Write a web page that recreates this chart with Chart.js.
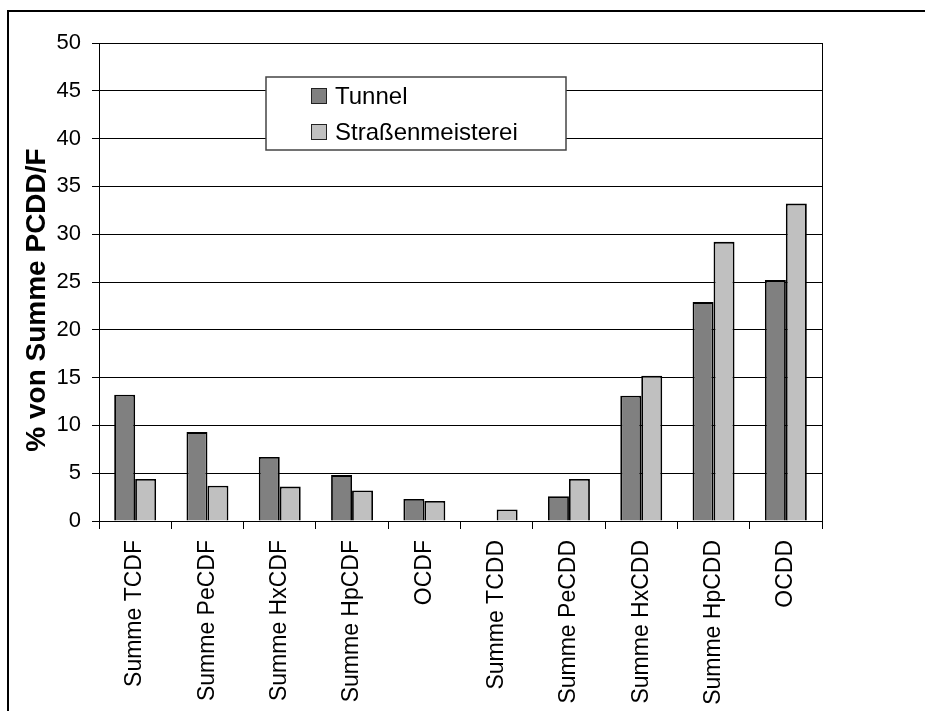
<!DOCTYPE html>
<html>
<head>
<meta charset="utf-8">
<script src="https://cdn.jsdelivr.net/npm/chart.js@4/dist/chart.umd.min.js"></script>
<style>
	html, body { margin: 0; padding: 0; background: #fff; }
	#wrap { width: 925px; height: 711px; }
</style>
</head>
<body>
<div id="wrap"><canvas id="chart" width="925" height="711"></canvas></div>
<script>
const categories = [
	"Summe TCDF",
	"Summe PeCDF",
	"Summe HxCDF",
	"Summe HpCDF",
	"OCDF",
	"Summe TCDD",
	"Summe PeCDD",
	"Summe HxCDD",
	"Summe HpCDD",
	"OCDD",
];
const tunnel = [13.2, 9.3, 6.7, 4.8, 2.3, 0, 2.6, 13.1, 22.9, 25.2];
const strassenmeisterei = [4.4, 3.7, 3.6, 3.2, 2.1, 1.2, 4.4, 15.2, 29.2, 33.2];
const yTitle = "% von Summe PCDD/F";

const FONT = "'Liberation Sans', Arial, sans-serif";

// outer frame (left + top only), right edge of the plot area, y title
const framePlugin = {
	id: "frame",
	beforeDraw(chart) {
		const ctx = chart.ctx;
		ctx.save();
		ctx.fillStyle = "#fff";
		ctx.fillRect(0, 0, chart.width, chart.height);
		ctx.strokeStyle = "#000";
		ctx.lineWidth = 2;
		ctx.beginPath();
		ctx.moveTo(8, chart.height);
		ctx.lineTo(8, 11);
		ctx.lineTo(chart.width, 11);
		ctx.stroke();
		ctx.restore();
	},
	afterDatasetsDraw(chart) {
		const ctx = chart.ctx;
		const a = chart.chartArea;
		ctx.save();
		ctx.strokeStyle = "#000";
		ctx.lineWidth = 1;
		ctx.beginPath();
		ctx.moveTo(Math.round(a.right) + 0.5, a.top);
		ctx.lineTo(Math.round(a.right) + 0.5, a.bottom);
		ctx.stroke();
		// axis title sits a bit below the middle of the axis in the original
		ctx.translate(37, a.top + 257);
		ctx.rotate(-Math.PI / 2);
		ctx.font = "bold 28px " + FONT;
		ctx.fillStyle = "#000";
		ctx.textAlign = "center";
		ctx.textBaseline = "middle";
		ctx.fillText(yTitle, 0, 0);
		ctx.restore();
	},
};

// legend drawn as a boxed panel inside the plot
const boxLegend = {
	id: "boxLegend",
	afterDatasetsDraw(chart) {
		const ctx = chart.ctx;
		const a = chart.chartArea;
		const x = a.left + 167;
		const y = a.top + 34;
		ctx.save();
		ctx.fillStyle = "#fff";
		ctx.fillRect(x, y, 300, 73);
		ctx.strokeStyle = "#444";
		ctx.lineWidth = 1.5;
		ctx.strokeRect(x, y, 300, 73);
		ctx.font = "24px " + FONT;
		ctx.textBaseline = "middle";
		chart.data.datasets.forEach((ds, i) => {
			const cy = y + 19 + i * 36;
			ctx.fillStyle = ds.backgroundColor;
			ctx.fillRect(x + 45, cy - 8, 16, 16);
			ctx.strokeStyle = "#222";
			ctx.lineWidth = 1;
			ctx.strokeRect(x + 45.5, cy - 7.5, 15, 15);
			ctx.fillStyle = "#000";
			ctx.fillText(ds.label, x + 69, cy + 1);
		});
		ctx.restore();
	},
};

new Chart(document.getElementById("chart"), {
	type: "bar",
	data: {
		labels: categories,
		datasets: [
			{
				label: "Tunnel",
				data: tunnel,
				backgroundColor: "#808080",
				borderColor: "#000",
				borderWidth: 1.8,
			},
			{
				label: "Straßenmeisterei",
				data: strassenmeisterei,
				backgroundColor: "#c0c0c0",
				borderColor: "#000",
				borderWidth: 1.8,
			},
		],
	},
	plugins: [framePlugin, boxLegend],
	options: {
		responsive: false,
		animation: false,
		layout: { padding: { top: 43, right: 103, left: 0, bottom: 0 } },
		datasets: {
			bar: { categoryPercentage: 0.58, barPercentage: 1.0 },
		},
		plugins: {
			legend: { display: false },
			tooltip: { enabled: false },
		},
		scales: {
			x: {
				afterFit: (s) => { s.height = 190; },
				grid: {
					offset: true,
					drawOnChartArea: false,
					color: "#000",
					tickLength: 8,
				},
				border: { color: "#000", width: 1 },
				ticks: {
					color: "#000",
					font: { family: FONT, size: 23 },
					minRotation: 90,
					maxRotation: 90,
					padding: 11,
					autoSkip: false,
				},
			},
			y: {
				min: 0,
				max: 50,
				afterFit: (s) => { s.width = 99; },
				grid: { color: "#000", tickLength: 7 },
				border: { color: "#000", width: 1 },
				ticks: {
					stepSize: 5,
					color: "#000",
					font: { family: FONT, size: 22 },
					padding: 11,
				},
			},
		},
	},
});
</script>
</body>
</html>
